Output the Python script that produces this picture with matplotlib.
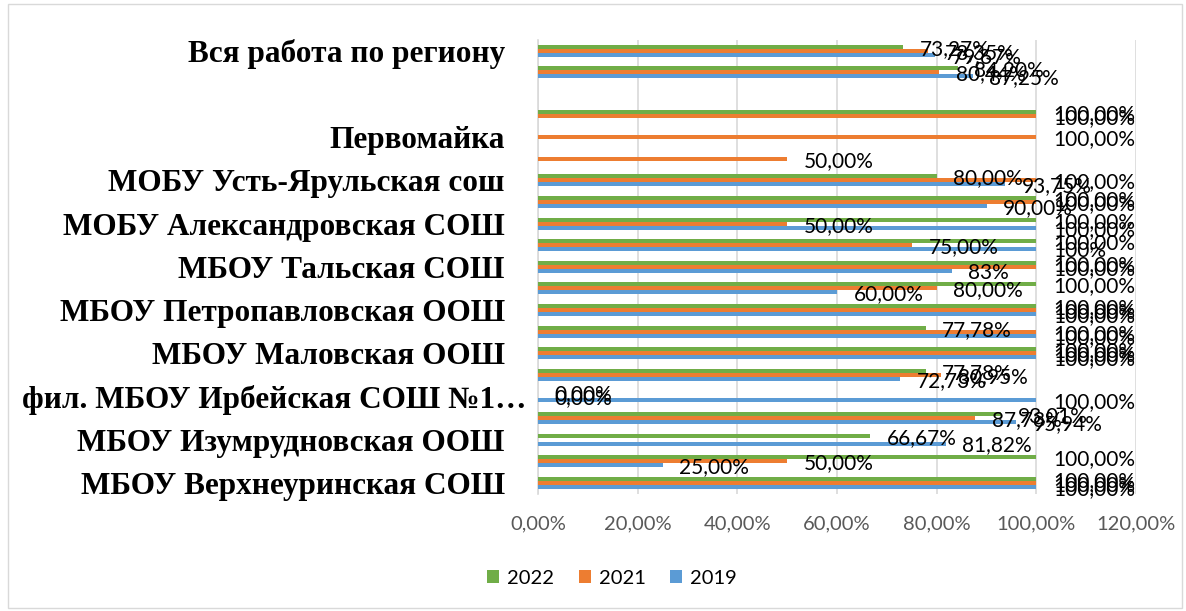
import numpy as np
import matplotlib
matplotlib.use("Agg")
import matplotlib.pyplot as plt
from matplotlib.patches import Rectangle
from matplotlib.transforms import ScaledTranslation

nan = np.nan

# categories from bottom (index 0) to top
categories = [
    "МБОУ Верхнеуринская СОШ", "",
    "МБОУ Изумрудновская ООШ", "",
    "фил. МБОУ Ирбейская СОШ №1…", "",
    "МБОУ Маловская ООШ", "",
    "МБОУ Петропавловская ООШ", "",
    "МБОУ Тальская СОШ", "",
    "МОБУ Александровская СОШ", "",
    "МОБУ Усть-Ярульская сош", "",
    "Первомайка", "", "", "",
    "Вся работа по региону",
]

v2022 = [100, 100, 66.67, 93.01, 0, 77.78, 100, 77.78, 100, 100, 100,
         100, 100, 100, 80, nan, nan, 100, nan, 84.20, 73.27]
v2021 = [100, 50, nan, 87.73, 0, 80.95, 100, 100, 100, 80, 100,
         75, 50, 100, 100, 50, 100, 100, nan, 80.44, 78.35]
v2019 = [100, 25, 81.82, 95.94, 100, 72.73, 100, 100, 100, 60, 83,
         100, 100, 90, 93.75, nan, nan, nan, nan, 87.25, 79.67]

lab2022 = ["100,00%", "100,00%", "66,67%", "93,01%", "0,00%", "77,78%", "100,00%",
           "77,78%", "100,00%", "100,00%", "100,00%", "100,00%", "100,00%", "100,00%",
           "80,00%", "", "", "100,00%", "", "84,20%", "73,27%"]
lab2021 = ["100,00%", "50,00%", "", "87,73%", "0,00%", "80,95%", "100,00%",
           "100,00%", "100,00%", "80,00%", "100,00%", "75,00%", "50,00%", "100,00%",
           "100,00%", "50,00%", "100,00%", "100,00%", "", "80,44%", "78,35%"]
lab2019 = ["100,00%", "25,00%", "81,82%", "95,94%", "100,00%", "72,73%", "100,00%",
           "100,00%", "100,00%", "60,00%", "83%", "100%", "100,00%", "90,00%",
           "93,75%", "", "", "", "", "87,25%", "79,67%"]

series = [("2022", v2022, lab2022, "#70AD47"),
          ("2021", v2021, lab2021, "#ED7D31"),
          ("2019", v2019, lab2019, "#5B9BD5")]

xticks = [0, 20, 40, 60, 80, 100, 120]
xticklabels = ["0,00%", "20,00%", "40,00%", "60,00%", "80,00%", "100,00%", "120,00%"]

W, H = 1186, 611
fig = plt.figure(figsize=(W / 100, H / 100), dpi=100)
ax = fig.add_axes([538 / W, 1 - 493.5 / H, (1136 - 538) / W, (493.5 - 40) / H])

y = np.arange(len(categories))
h = 0.185
offsets = [h, 0, -h]
num_font = "Lato"
for (name, vals, labs, col), off in zip(series, offsets):
    vals = np.array(vals, dtype=float)
    ax.barh(y + off, np.nan_to_num(vals), height=h, color=col, label=name, zorder=3)
    for yi, v, t in zip(y, vals, labs):
        if np.isnan(v) or not t:
            continue
        ax.annotate(t, (v, yi + off), xytext=(12, -1.5), textcoords="offset points",
                    ha="left", va="center", fontsize=15, family=num_font,
                    color="#000000", zorder=5, annotation_clip=False)

ax.set_xlim(0, 120)
ax.set_ylim(-0.5, len(categories) - 0.5)
ax.set_xticks(xticks)
ax.set_xticklabels(xticklabels, family=num_font, fontsize=14.5, color="#595959")
ax.set_yticks(y)
ax.set_yticklabels(categories, family="Liberation Serif", fontweight="bold",
                   fontsize=22.5, color="#000000")
ax.tick_params(axis="x", length=0, pad=16)
ax.tick_params(axis="y", length=0, pad=24)
ax.grid(axis="x", color="#D9D9D9", lw=1.2, zorder=0)
for s in ["top", "right", "bottom"]:
    ax.spines[s].set_visible(False)
ax.spines["left"].set_color("#D9D9D9")
ax.spines["left"].set_linewidth(1.2)

# the truncated label overflows to the right in the reference
for lbl in ax.get_yticklabels():
    if lbl.get_text().endswith("…"):
        lbl.set_transform(lbl.get_transform() +
                          ScaledTranslation(22 / 100, 0, fig.dpi_scale_trans))

leg = fig.legend(loc="center", bbox_to_anchor=(612 / W, 1 - 578 / H), ncol=3,
                 frameon=False, prop={"family": num_font, "size": 14.5},
                 handlelength=0.6, handleheight=0.6, handletextpad=0.4,
                 columnspacing=1.2)

fig.add_artist(Rectangle((8 / W, 3 / H), (W - 12) / W, (H - 7) / H,
                         transform=fig.transFigure, fill=False,
                         edgecolor="#D9D9D9", lw=1))

fig.savefig("out.png", dpi=100)
